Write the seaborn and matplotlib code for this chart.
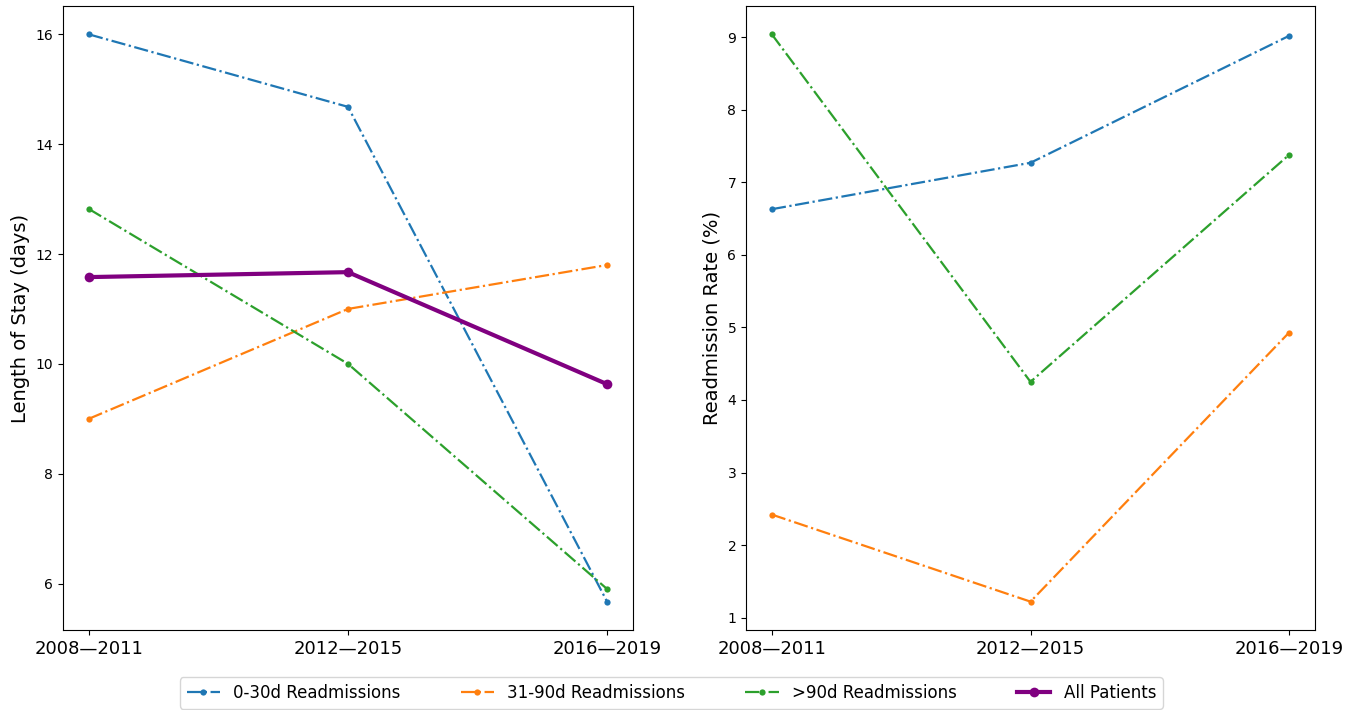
import pandas as pd
import matplotlib
matplotlib.use("Agg")
import matplotlib.pyplot as plt
import seaborn as sns

# periods on the x axis
periods = ["2008\u20142011", "2012\u20142015", "2016\u20142019"]

# length of stay (days)
los_0_30 = [16.0, 14.68, 5.67]
los_31_90 = [9.0, 11.0, 11.8]
los_90_plus = [12.82, 10.0, 5.9]
los_all = [11.58, 11.67, 9.63]

# readmission rate (%)
rate_0_30 = [6.63, 7.27, 9.02]
rate_31_90 = [2.42, 1.22, 4.93]
rate_90_plus = [9.04, 4.25, 7.38]

series_names = ["0-30d Readmissions", "31-90d Readmissions", ">90d Readmissions", "All Patients"]
colors = ["#1f77b4", "#ff7f0e", "#2ca02c", "purple"]


def draw_group(ax, values, name, color, main=False):
    df = pd.DataFrame({"period": periods, "value": values})
    if main:
        sns.lineplot(data=df, x="period", y="value", ax=ax, color=color,
                     linestyle="-", linewidth=3, marker="o", markersize=7,
                     markeredgewidth=0, label=name, sort=False)
    else:
        sns.lineplot(data=df, x="period", y="value", ax=ax, color=color,
                     linestyle="-.", linewidth=1.6, marker="o", markersize=4.5,
                     markeredgewidth=0, label=name, sort=False)


W, H = 1359, 710
fig = plt.figure(figsize=(W / 100, H / 100), dpi=100)
# axes boxes measured in pixels: left, top, right, bottom
ax1 = fig.add_axes([63 / W, 1 - 630 / H, (633 - 63) / W, (630 - 6) / H])
ax2 = fig.add_axes([746 / W, 1 - 630 / H, (1315 - 746) / W, (630 - 6) / H])

# left panel: length of stay
draw_group(ax1, los_0_30, series_names[0], colors[0])
draw_group(ax1, los_31_90, series_names[1], colors[1])
draw_group(ax1, los_90_plus, series_names[2], colors[2])
draw_group(ax1, los_all, series_names[3], colors[3], main=True)
ax1.set_ylabel("Length of Stay (days)", fontsize=14)
ax1.set_xlabel("")
ax1.set_yticks([6, 8, 10, 12, 14, 16])

# right panel: readmission rate
draw_group(ax2, rate_0_30, series_names[0], colors[0])
draw_group(ax2, rate_31_90, series_names[1], colors[1])
draw_group(ax2, rate_90_plus, series_names[2], colors[2])
ax2.set_ylabel("Readmission Rate (%)", fontsize=14)
ax2.set_xlabel("")

for ax in (ax1, ax2):
    ax.tick_params(axis="x", labelsize=13)
    ax.tick_params(axis="y", labelsize=10)

handles, labels = ax1.get_legend_handles_labels()
ax1.get_legend().remove()
ax2.get_legend().remove()
fig.legend(handles, labels, loc="lower center", ncol=4, fontsize=12,
           bbox_to_anchor=(0.494, -0.01), columnspacing=3.6)

plt.savefig("out.png", dpi=100)
